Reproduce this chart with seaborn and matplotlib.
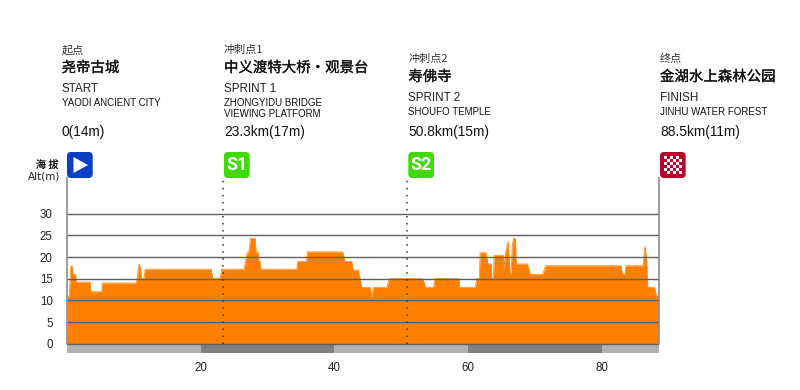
import matplotlib
matplotlib.use("Agg")
import matplotlib.pyplot as plt
import matplotlib.patheffects as pe
from matplotlib.patches import FancyBboxPatch, Polygon, Rectangle
from matplotlib.transforms import Affine2D
import numpy as np
import pandas as pd
import seaborn as sns

# ---------- data ----------
km = [0, .35, .55, .8, .9, 1.3, 1.35, 3.45, 3.55, 5.2, 5.25, 10.4, 10.6, 10.8, 11.05, 11.1, 11.5, 11.7,
      21.55, 21.8, 22.9, 23.15, 26.5, 26.7, 26.95, 27.2, 27.45, 28.15, 28.3, 28.65, 28.7, 28.9, 29.0,
      34.4, 34.5, 35.85, 35.95, 41.25, 41.6, 42.6, 42.8, 43.6, 44.1, 45.35, 45.6, 45.85, 47.85, 48.2,
      53.25, 53.65, 54.85, 55.0, 58.65, 58.75, 61.1, 61.3, 61.7, 61.8, 62.7, 63.0, 63.5, 63.55, 63.8, 63.9,
      65.3, 65.4, 65.6, 66.0, 66.3, 66.45, 66.6, 66.8, 67.1, 67.2, 68.9, 69.3, 71.15, 71.6, 82.9, 83.1,
      83.5, 83.6, 86.2, 86.45, 86.7, 86.85, 86.9, 87.9, 88.2, 88.5]
alt = [10.8, 11.2, 18, 17.8, 16, 16, 14.2, 14.2, 12, 12, 14, 14, 16.5, 18.4, 17, 15, 15, 17.2,
       17.2, 15, 15, 17.2, 17.2, 19, 21, 21, 24.3, 24.3, 21, 21, 19, 19, 17.2,
       17.2, 19, 19, 21.2, 21.2, 19, 19, 17, 17, 13, 13, 10.8, 13, 13, 15,
       15, 13, 13, 15, 15, 13, 13, 15, 15, 21, 21, 18.4, 18.4, 15, 15, 20.4,
       20.4, 17.2, 21, 23.5, 16, 16, 22.4, 24.3, 24.3, 18.4, 18.4, 16, 16, 18, 18, 16,
       16, 18, 18, 22.4, 20, 15, 13, 13, 11, 11]
yticks = [0, 5, 10, 15, 20, 25, 30]
xticks = [20, 40, 60, 80]
band_edges = [0, 20, 40, 60, 80, 88.5]
band_colors = ["#b2b2b2", "#808080", "#b2b2b2", "#808080", "#b2b2b2"]
sprints = [23.3, 50.8]

small_cn = ["起点", "冲刺点1", "冲刺点2", "终点"]
big_cn = ["尧帝古城", "中义渡特大桥・观景台", "寿佛寺", "金湖水上森林公园"]
mid_en = ["START", "SPRINT 1", "SPRINT 2", "FINISH"]
small_en = ["YAODI ANCIENT CITY", "ZHONGYIDU BRIDGE\nVIEWING PLATFORM", "SHOUFO TEMPLE", "JINHU WATER FOREST"]
dist = ["0(14m)", "23.3km(17m)", "50.8km(15m)", "88.5km(11m)"]

# ---------- layout (pixels) ----------
W, H = 800, 390
sns.set_theme(style="white")
plt.rcParams["font.family"] = ["Liberation Sans", "Noto Sans CJK SC", "DejaVu Sans"]
CJK = ["Noto Sans CJK SC", "DejaVu Sans"]
TXT = "#1a1a1a"

fig = plt.figure(figsize=(W / 100, H / 100), dpi=100, facecolor="white")
ax = fig.add_axes([67 / W, 1 - 353.3 / H, 591.5 / W, 175.3 / H])
ax.set_xlim(0, 88.5)
y_px = 4.333
ax.set_ylim(-9.6 / y_px, (343.7 - 178) / y_px)

df = pd.DataFrame({"km": km, "alt": alt})
ax.fill_between(df["km"], 0, df["alt"], color="#ff8000", lw=0, zorder=2)
sns.lineplot(data=df, x="km", y="alt", ax=ax, color="#ff8f1f", lw=0.6, zorder=2.1, errorbar=None, sort=False)

for i, c in enumerate(band_colors):
    ax.bar(band_edges[i], -9.6 / y_px, width=band_edges[i + 1] - band_edges[i], align="edge",
           color=c, lw=0, zorder=2)

for t in yticks:
    ax.plot([0, 88.5], [t, t], color="#5f5f5f", lw=1.0, zorder=3, solid_capstyle="butt")
for s in sprints:
    ax.plot([s, s], [0, 38.2], color="#333333", lw=1.1, ls=(0, (1, 3.6)), zorder=4)

ax.set_xlabel("")
ax.set_ylabel("")
ax.set_xticks(xticks)
ax.set_yticks(yticks)
ax.tick_params(axis="both", length=0, labelsize=8.3, labelcolor="#222222")
ax.tick_params(axis="x", pad=6)
ax.tick_params(axis="y", pad=10.3)
for sp in ("top", "bottom"):
    ax.spines[sp].set_visible(False)
ax.spines["left"].set_bounds(0, 38.2)
ax.spines["right"].set_bounds(0, 38.2)
for sp in ("left", "right"):
    ax.spines[sp].set_color("#8c8c8c")
    ax.spines[sp].set_linewidth(1.2)
    ax.spines[sp].set_zorder(5)


def T(x, y, s, size, family=None, weight="normal", color=TXT, ha="left", va="center", heavy=0, **kw):
    t = fig.text(x / W, 1 - y / H, s, fontsize=size, family=family or plt.rcParams["font.family"],
                 weight=weight, color=color, ha=ha, va=va, **kw)
    if heavy:
        t.set_path_effects([pe.withStroke(linewidth=heavy, foreground=color)])
    return t


col_x = [61.5, 224, 408.3, 660]
col_dy = [0, 0, 9, 9]
for i in range(4):
    x, d = col_x[i], col_dy[i]
    T(x, 50 + d, small_cn[i], 8.0, family=CJK, color="#333333")
    T(x, 68 + d, big_cn[i], 10.4, family=CJK, color="#111111", heavy=0.2)
    T(x, 89 + d, mid_en[i], 8.4, color="#222222")
    T(x, 108.7 if "\n" in small_en[i] else 103 + d, small_en[i], 7.05, color="#111111",
      linespacing=1.13)
    T(x, 132, dist[i], 9.9, color="#111111")

T(58.5, 165, "海 拔", 7.4, family=CJK, ha="right", heavy=0.12)
T(60, 177, "Alt(m)", 7.5, family=["DejaVu Sans"], ha="right", color="#222222")

# pixel coordinates with the origin at the top left
px = Affine2D().scale(1 / W, -1 / H).translate(0, 1) + fig.transFigure


def icon(x0, color, y0=152, w=25.7, h=26):
    r = 4
    fig.add_artist(FancyBboxPatch((x0 + r, y0 + r), w - 2 * r, h - 2 * r,
                                  boxstyle=f"round,pad={r},rounding_size={r}",
                                  transform=px, fc=color, ec="none"))


NARROW = ["Liberation Sans Narrow", "Roboto", "DejaVu Sans"]
icon(67, "#0b3fc4")
fig.add_artist(Polygon([[73.5, 157], [73.5, 173], [88, 165]], closed=True, transform=px, fc="white", ec="none"))
icon(224, "#41d90a")
T(236.8, 165.3, "S1", 13, family=NARROW, weight="bold", color="white", ha="center")
icon(408.3, "#41d90a")
T(421.1, 165.3, "S2", 13, family=NARROW, weight="bold", color="white", ha="center")
icon(660, "#b8052c")
n, cell, cx, cy = 6, 3.1, 663.5, 155.7
for r_ in range(n):
    for c_ in range(n):
        if (r_ + c_) % 2 == 0:
            fig.add_artist(Rectangle((cx + c_ * cell, cy + r_ * cell), cell, cell,
                                     transform=px, fc="white", ec="none"))

fig.savefig("out.png", dpi=100)
